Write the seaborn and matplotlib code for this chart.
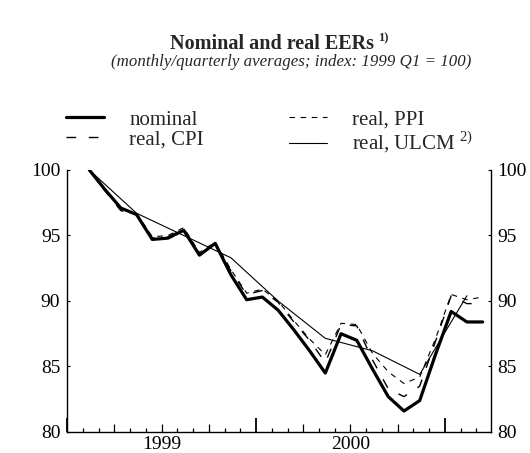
import numpy as np
import pandas as pd
import matplotlib
matplotlib.use('Agg')
import matplotlib.pyplot as plt
import seaborn as sns

# monthly series, Jan 1999 - Feb 2001 (index 1999 Q1 = 100)
month_index = np.arange(26)
nominal = [100, 98.5, 97.1, 96.6, 94.7, 94.8, 95.4, 93.5, 94.4, 92.0, 90.1, 90.3, 89.3,
           87.8, 86.2, 84.5, 87.5, 87.0, 84.8, 82.7, 81.6, 82.4, 85.9, 89.2, 88.4, 88.4]
real_cpi = [100, 98.4, 96.9, 96.6, 94.8, 94.9, 95.5, 93.6, 94.4, 92.3, 90.5, 90.8, 89.9,
            88.4, 87.0, 85.3, 88.2, 88.1, 85.5, 83.3, 82.7, 83.5, 86.9, 90.4, 89.8, 89.8]
real_ppi = [100, 98.5, 97.0, 96.7, 94.9, 95.0, 95.6, 93.7, 94.5, 92.4, 90.6, 90.9, 90.0,
            88.5, 87.1, 85.9, 88.3, 88.2, 86.0, 84.6, 83.7, 84.2, 87.1, 90.5, 90.1, 90.3]

# quarterly series, 1999 Q1 - 2001 Q1
quarter_index = np.arange(9) * 3
real_ulcm = [100, 96.7, 95.0, 93.3, 90.0, 87.15, 86.2, 84.4, 90.4]

years = ['1999', '2000']

offset = 1.4  # position of first observation on the month axis
df_m = pd.DataFrame({'x': month_index + offset, 'nominal': nominal,
                     'cpi': real_cpi, 'ppi': real_ppi})
df_q = pd.DataFrame({'x': quarter_index + offset, 'ulcm': real_ulcm})

sns.set_style('ticks')
plt.rcParams['font.family'] = ['Liberation Serif', 'DejaVu Serif']
plt.rcParams['mathtext.fontset'] = 'custom'
plt.rcParams['mathtext.rm'] = 'Liberation Serif'

fig = plt.figure(figsize=(5.30, 4.53), dpi=100)
ax = fig.add_axes([67.3 / 530, 1 - 432 / 453, (490.5 - 67.3) / 530, (432 - 170) / 453])

sns.lineplot(data=df_q, x='x', y='ulcm', ax=ax, color='black', lw=0.8, label='real, ULCM $^{2)}$')
sns.lineplot(data=df_m, x='x', y='ppi', ax=ax, color='black', lw=0.8,
             linestyle=(0, (5, 5)), label='real, PPI')
sns.lineplot(data=df_m, x='x', y='cpi', ax=ax, color='black', lw=1.0,
             linestyle=(0, (7, 9)), label='real, CPI')
sns.lineplot(data=df_m, x='x', y='nominal', ax=ax, color='black', lw=2.3, label='nominal')

ax.set_xlim(0, 26.9)
ax.set_ylim(80, 100)
ax.set_xlabel('')
ax.set_ylabel('')

ax.spines['top'].set_visible(False)
for s in ['left', 'right', 'bottom']:
    ax.spines[s].set_visible(True)
    ax.spines[s].set_linewidth(1.0)
    ax.spines[s].set_color('black')

ax.set_yticks([80, 85, 90, 95, 100])
ax.tick_params(axis='y', direction='in', length=2.5, width=0.8, labelsize=14,
               left=True, right=True, labelleft=True, labelright=True, pad=5,
               colors='black')

# monthly ticks (longer at quarters and years), year labels as minor ticks
month_ticks = np.arange(0, 27)
ax.xaxis.remove_overlapping_locs = False
ax.set_xticks(month_ticks, [''] * len(month_ticks))
ax.set_xticks([6, 18], years, minor=True)
ax.tick_params(axis='x', which='major', direction='in', width=0.9, color='black')
ax.tick_params(axis='x', which='minor', length=0, labelsize=14, pad=3, labelcolor='black')
for m, tick in zip(month_ticks, ax.xaxis.get_major_ticks()):
    if m % 12 == 0:
        tick.tick1line.set_markersize(10)
        tick.tick1line.set_markeredgewidth(1.3)
    elif m % 3 == 0:
        tick.tick1line.set_markersize(5.5)
    else:
        tick.tick1line.set_markersize(3)

handles, labels = ax.get_legend_handles_labels()
order = [3, 2, 1, 0]
ax.legend([handles[i] for i in order], [labels[i] for i in order],
          loc='upper left', bbox_to_anchor=(66 / 530, 1 - 110 / 453),
          bbox_transform=fig.transFigure, ncol=2, frameon=False,
          fontsize=15, handlelength=1.83, handletextpad=1.2, columnspacing=4.1,
          labelspacing=0.0, borderpad=0, borderaxespad=0)

title = fig.text(170 / 530, 1 - 44 / 453, 'Nominal and real EERs', fontsize=14.5,
                 fontweight='bold', ha='left', va='center')
fig.canvas.draw()
tb = title.get_window_extent()
fig.text((tb.x1 + 4) / 530, 1 - 38 / 453, '1)', fontsize=9, fontweight='bold',
         ha='left', va='center')
fig.text(291 / 530, 1 - 62.5 / 453, '(monthly/quarterly averages; index: 1999 Q1 = 100)',
         fontsize=12.2, style='italic', ha='center', va='center')

fig.savefig('out.png', dpi=100)
